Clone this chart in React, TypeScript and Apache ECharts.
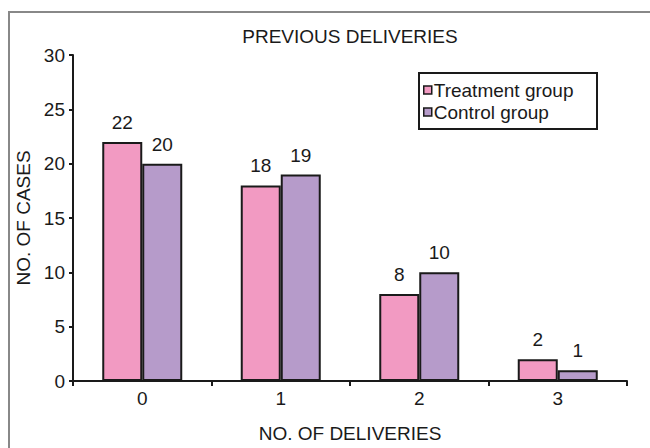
import React, { useEffect, useRef } from "react";
import * as echarts from "echarts";

const categories = ["0", "1", "2", "3"];
const treatment = [22, 18, 8, 2];
const control = [20, 19, 10, 1];
const seriesNames = ["Treatment group", "Control group"];

export default function App() {
  const ref = useRef<HTMLDivElement>(null);
  useEffect(() => {
    const chart = echarts.init(ref.current!, null, { renderer: "svg" });
    const font = "Liberation Sans, Arial, sans-serif";
    const fs = 19;
    chart.setOption({
      animation: false,
      backgroundColor: "#ffffff",
      textStyle: { fontFamily: font },
      title: {
        text: "PREVIOUS DELIVERIES",
        left: 345,
        textAlign: "center",
        top: 22,
        textStyle: { fontFamily: font, fontSize: fs, fontWeight: "normal", color: "#1a1a1a" },
      },
      graphic: [
        {
          type: "rect",
          shape: { x: 9, y: 12, width: 700, height: 500 },
          style: { fill: "none", stroke: "#888888", lineWidth: 2 },
          silent: true,
        },
        {
          type: "rect",
          shape: { x: 419, y: 73, width: 178, height: 56 },
          style: { fill: "#ffffff", stroke: "#1a1a1a", lineWidth: 2 },
          z: 5,
          silent: true,
        },
      ],
      legend: {
        data: seriesNames,
        orient: "vertical",
        left: 423,
        top: 80,
        padding: 0,
        itemWidth: 8,
        itemHeight: 8,
        itemGap: 2,
        z: 10,
        icon: "rect",
        itemStyle: { borderColor: "#1a1a1a", borderWidth: 1.5 },
        textStyle: { fontFamily: font, fontSize: fs, color: "#1a1a1a", padding: [0, 0, 0, -3], lineHeight: 20 },
      },
      grid: { left: 73, right: 23, top: 55, bottom: 56, containLabel: false },
      xAxis: {
        type: "category",
        data: categories,
        name: "NO. OF DELIVERIES",
        nameLocation: "middle",
        nameGap: 43,
        nameTextStyle: { fontFamily: font, fontSize: fs, color: "#1a1a1a" },
        axisLine: { lineStyle: { color: "#1a1a1a", width: 2 } },
        axisTick: { show: true, alignWithLabel: false, length: 5, lineStyle: { color: "#1a1a1a", width: 2 } },
        axisLabel: { fontFamily: font, fontSize: fs, color: "#1a1a1a", margin: 8 },
      },
      yAxis: {
        type: "value",
        min: 0,
        max: 30,
        interval: 5,
        name: "NO. OF CASES",
        nameLocation: "middle",
        nameGap: 33,
        nameTextStyle: { fontFamily: font, fontSize: fs, color: "#1a1a1a" },
        axisLine: { show: true, lineStyle: { color: "#1a1a1a", width: 2 } },
        axisTick: { show: true, length: 4, lineStyle: { color: "#1a1a1a", width: 2 } },
        axisLabel: { fontFamily: font, fontSize: fs, color: "#1a1a1a", margin: 8 },
        splitLine: { show: false },
      },
      series: [
        {
          name: seriesNames[0],
          type: "bar",
          data: treatment,
          barWidth: 40,
          barGap: "0%",
          itemStyle: { color: "#f29ac2", borderColor: "#1a1a1a", borderWidth: 2 },
          label: { show: true, position: "top", distance: 10, fontFamily: font, fontSize: fs, color: "#1a1a1a" },
        },
        {
          name: seriesNames[1],
          type: "bar",
          data: control,
          barWidth: 40,
          barGap: "0%",
          itemStyle: { color: "#b69bca", borderColor: "#1a1a1a", borderWidth: 2 },
          label: { show: true, position: "top", distance: 10, fontFamily: font, fontSize: fs, color: "#1a1a1a" },
        },
      ],
    });
    return () => chart.dispose();
  }, []);
  return (
    <div
      ref={ref}
      style={{ position: "fixed", left: 0, top: 0, width: 650, height: 448 }}
    />
  );
}
